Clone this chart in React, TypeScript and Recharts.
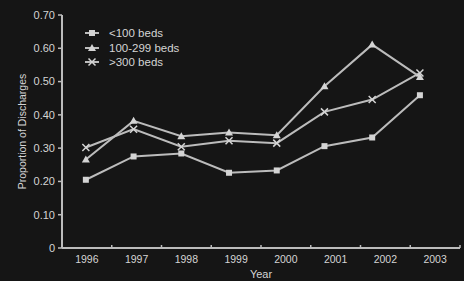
import { Legend, Line, LineChart, XAxis, YAxis } from 'recharts'

const years = ['1996', '1997', '1998', '1999', '2000', '2001', '2002', '2003']
const smallBeds = [0.205, 0.275, 0.284, 0.226, 0.233, 0.306, 0.332, 0.459]
const midBeds = [0.266, 0.382, 0.336, 0.347, 0.339, 0.486, 0.611, 0.514]
const largeBeds = [0.302, 0.357, 0.304, 0.322, 0.315, 0.409, 0.446, 0.526]
const yTicks = [0, 0.1, 0.2, 0.3, 0.4, 0.5, 0.6, 0.7]

const data = years.map((year, i) => ({
  idx: i,
  year,
  small: smallBeds[i],
  mid: midBeds[i],
  large: largeBeds[i],
}))

// band edges (integers) carry tick marks, band centres (halves) carry the year
const xTicks = Array.from({ length: years.length * 2 + 1 }, (_, i) => i / 2)

const INK = '#d4d4d4'
const LINE = '#bcbcbc'
const FONT = '"Liberation Sans", Arial, sans-serif'

function SquareMark({ cx, cy }: any) {
  if (cx == null || cy == null) return null
  return <rect x={cx - 3} y={cy - 3} width={6} height={6} fill={INK} />
}

function TriangleMark({ cx, cy }: any) {
  if (cx == null || cy == null) return null
  return <path d={`M${cx},${cy - 4} L${cx + 4},${cy + 3} L${cx - 4},${cy + 3} Z`} fill={INK} />
}

function CrossMark({ cx, cy }: any) {
  if (cx == null || cy == null) return null
  return (
    <path
      d={`M${cx - 3.5},${cy - 3.5} L${cx + 3.5},${cy + 3.5} M${cx + 3.5},${cy - 3.5} L${cx - 3.5},${cy + 3.5}`}
      stroke={INK}
      strokeWidth={1.5}
    />
  )
}

function YearTick({ x, y, payload }: any) {
  const v = payload.value as number
  if (Number.isInteger(v)) {
    return <line x1={x} x2={x} y1={y} y2={y - 3} stroke={LINE} strokeWidth={1.5} />
  }
  return (
    <text x={x} y={y + 15} textAnchor="middle" fill={INK} fontSize={10.5} fontFamily={FONT}>
      {years[Math.floor(v)]}
    </text>
  )
}

const legendRows = [
  { label: '<100 beds', Mark: SquareMark },
  { label: '100-299 beds', Mark: TriangleMark },
  { label: '>300 beds', Mark: CrossMark },
]

function BedsLegend() {
  return (
    <div style={{ fontFamily: FONT, fontSize: 11.5, color: INK }}>
      {legendRows.map(({ label, Mark }) => (
        <div key={label} style={{ display: 'flex', alignItems: 'center', height: 14.5 }}>
          <svg width={24} height={12}>
            <line x1={3} x2={17} y1={6} y2={6} stroke={LINE} strokeWidth={2} />
            <Mark cx={10} cy={6} />
          </svg>
          <span style={{ marginLeft: 3 }}>{label}</span>
        </div>
      ))}
    </div>
  )
}

export default function App() {
  return (
    <div style={{ position: 'absolute', top: 0, left: 0, width: 464, height: 281, background: '#151515' }}>
      <LineChart width={464} height={281} data={data} margin={{ top: 15, right: 4, bottom: 0, left: 0 }}>
        <XAxis
          xAxisId="band"
          dataKey="idx"
          type="number"
          domain={[0, 8]}
          ticks={xTicks}
          interval={0}
          tick={<YearTick />}
          tickLine={false}
          tickSize={0}
          tickMargin={0}
          height={33}
          axisLine={{ stroke: LINE, strokeWidth: 2 }}
          label={{ value: 'Year', position: 'insideBottom', offset: 3, fill: INK, fontSize: 11, fontFamily: FONT }}
        />
        <XAxis xAxisId="pts" dataKey="idx" type="number" domain={[-0.5, 7.84]} hide />
        <YAxis
          domain={[0, 0.7]}
          ticks={yTicks}
          interval={0}
          width={62}
          tickSize={4}
          tickMargin={3}
          tickFormatter={(v: number) => (v === 0 ? '0' : v.toFixed(2))}
          tick={{ fill: INK, fontSize: 11, fontFamily: FONT }}
          tickLine={{ stroke: LINE, strokeWidth: 1.5 }}
          axisLine={{ stroke: LINE, strokeWidth: 2 }}
          label={{
            value: 'Proportion of Discharges',
            angle: -90,
            position: 'insideLeft',
            offset: 22,
            fill: INK,
            fontSize: 10.5,
            fontFamily: FONT,
            style: { textAnchor: 'middle' },
          }}
        />
        <Legend
          layout="vertical"
          align="center"
          verticalAlign="middle"
          wrapperStyle={{ top: 26, left: 82, width: 'auto' }}
          content={<BedsLegend />}
        />
        <Line xAxisId="pts" dataKey="small" stroke={LINE} strokeWidth={2} dot={<SquareMark />} activeDot={false} isAnimationActive={false} />
        <Line xAxisId="pts" dataKey="mid" stroke={LINE} strokeWidth={2} dot={<TriangleMark />} activeDot={false} isAnimationActive={false} />
        <Line xAxisId="pts" dataKey="large" stroke={LINE} strokeWidth={2} dot={<CrossMark />} activeDot={false} isAnimationActive={false} />
      </LineChart>
    </div>
  )
}
